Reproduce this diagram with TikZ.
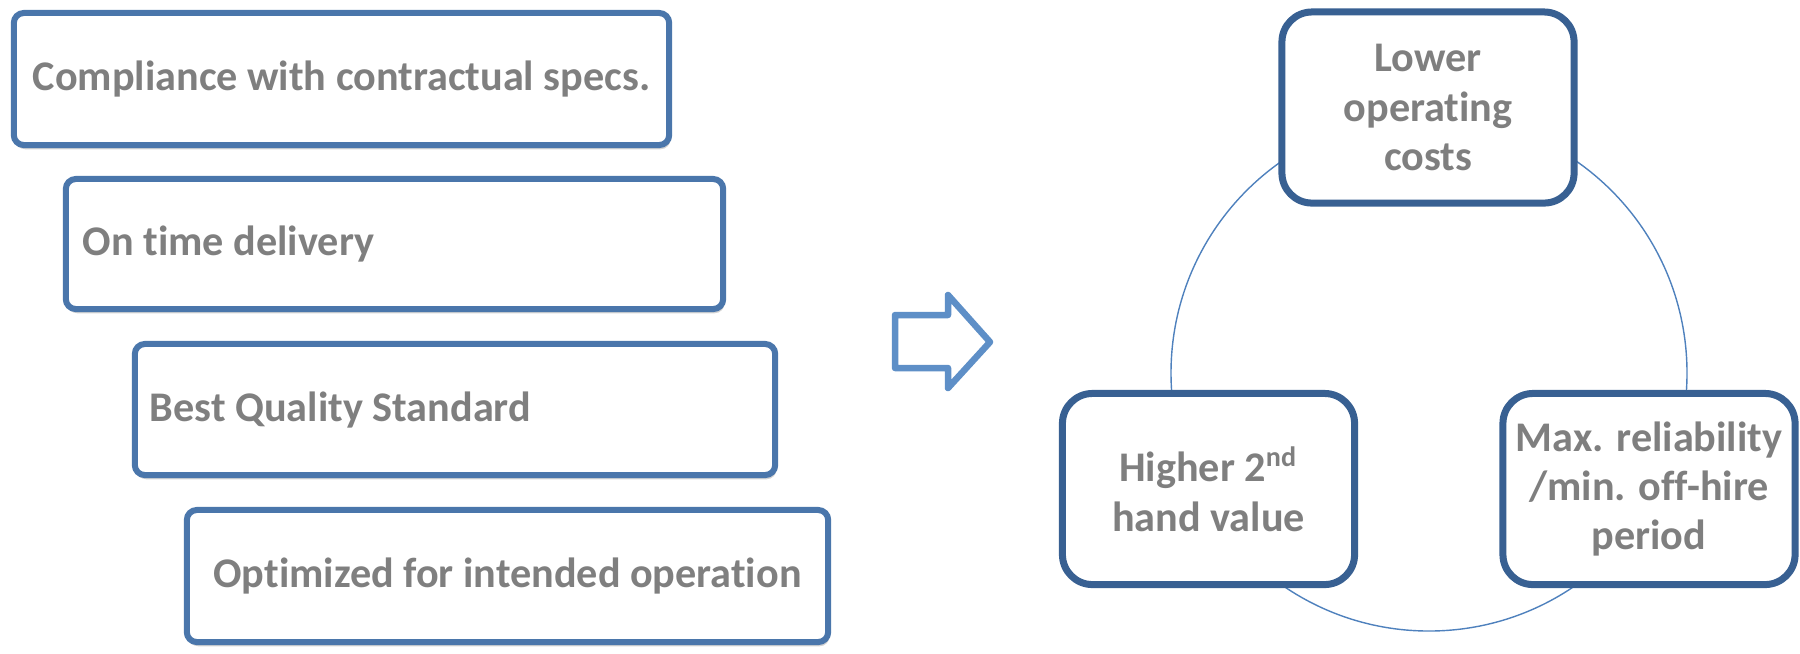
\documentclass[tikz,border=0pt]{standalone}
\usepackage{fontspec}
\setmainfont{Carlito}[Ligatures=NoCommon]
\usetikzlibrary{shadows,positioning}
\definecolor{boxblue}{RGB}{74,118,171}
\definecolor{darkblue}{RGB}{56,96,146}
\definecolor{ringblue}{RGB}{79,129,189}
\definecolor{arrowblue}{RGB}{94,143,199}
\definecolor{txtgray}{RGB}{127,127,127}

\begin{document}
\begin{tikzpicture}[x=0.01cm,y=-0.01cm,
  goal/.style={draw=boxblue, line width=0.06cm, rounded corners=0.1cm, fill=white,
    drop shadow={opacity=0.35, shadow xshift=0.4pt, shadow yshift=-1.2pt},
    font=\fontsize{12}{14.5}\selectfont\bfseries, text=txtgray, minimum height=1.32cm},
  benefit/.style={draw=darkblue, line width=0.07cm, rounded corners=0.3cm, fill=white,
    font=\fontsize{12}{14}\selectfont\bfseries, text=txtgray, align=center,
    minimum width=2.92cm, minimum height=1.91cm}]
  \useasboundingbox (0,0) rectangle (1800,653);
  \node [goal, minimum width=6.55cm] (spec) at (341.5,79) {Compliance with contractual specs.};
  \node [goal, text width=6.23cm, inner xsep=0.17cm, align=flush left, minimum height=1.30cm] (time) at (394.5,244) {On time delivery};
  \node [goal, text width=6.10cm, inner xsep=0.15cm, align=flush left, minimum height=1.31cm] (quality) at (455,409.5) {Best Quality Standard};
  \node [goal, minimum width=6.41cm] (oper) at (507.5,576) {Optimized for intended operation};
  \coordinate (A1) at (895,315);
  \coordinate (A2) at (948,315);
  \coordinate (A3) at (948,295);
  \coordinate (A4) at (990,342);
  \coordinate (A5) at (948,388);
  \coordinate (A6) at (948,368);
  \coordinate (A7) at (895,368);
  \draw [arrowblue, line width=0.065cm, line join=round] (A1) -- (A2) -- (A3) -- (A4) -- (A5) -- (A6) -- (A7) -- cycle;
  \coordinate (ring) at (1429,373);
  \draw [ringblue, line width=0.4pt] (ring) circle [radius=258];
  \node [benefit] (costs) at (1428,107.5) {Lower\\operating\\costs};
  \node [benefit] (value) at (1208.5,489) {Higher 2\textsuperscript{nd}\\hand value};
  \node [benefit] (reliab) at (1649,489) {Max. reliability\\/min. off-hire\\period};
\end{tikzpicture}
\end{document}
